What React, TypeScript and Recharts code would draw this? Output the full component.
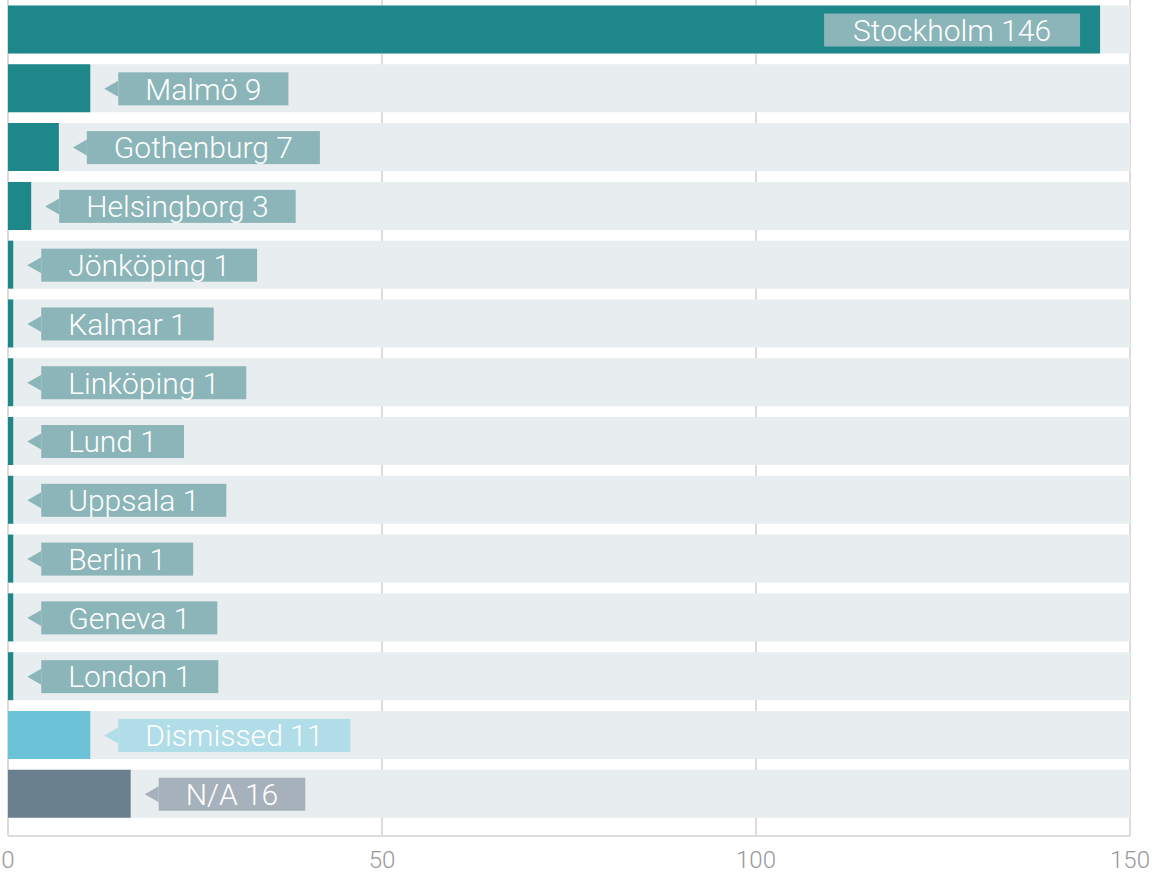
import { Bar, BarChart, CartesianGrid, Cell, LabelList, XAxis, YAxis } from "recharts";

const places = [
  "Stockholm",
  "Malmö",
  "Gothenburg",
  "Helsingborg",
  "Jönköping",
  "Kalmar",
  "Linköping",
  "Lund",
  "Uppsala",
  "Berlin",
  "Geneva",
  "London",
  "Dismissed",
  "N/A",
];
// numbers printed in the labels
const counts = [146, 9, 7, 3, 1, 1, 1, 1, 1, 1, 1, 1, 11, 16];
// bar lengths as drawn in the picture
const lengths = [146, 11, 6.8, 3.1, 0.7, 0.7, 0.7, 0.7, 0.7, 0.7, 0.7, 0.7, 11, 16.4];
const kinds = ["city", "city", "city", "city", "city", "city", "city", "city", "city", "city", "city", "city", "dismissed", "na"];
const xTicks = [0, 50, 100, 150];

const barColor: Record<string, string> = { city: "#1d878a", dismissed: "#6cc3d7", na: "#6b808f" };
const tagColor: Record<string, string> = { city: "#8bb5b8", dismissed: "#b0dde8", na: "#a7b1bb" };

const data = places.map((name, i) => ({
  name,
  length: lengths[i],
  label: `${name} ${counts[i]}`,
  kind: kinds[i],
}));

const FONT = "300 30px Roboto";
let ctx: CanvasRenderingContext2D | null = null;
function textWidth(s: string) {
  if (!ctx) ctx = document.createElement("canvas").getContext("2d");
  if (!ctx) return s.length * 15;
  ctx.font = FONT;
  return ctx.measureText(s).width;
}

const PLOT_RIGHT = 1130;

function Tag(props: any) {
  const { x, y, width, height, index } = props;
  const d = data[index];
  const tw = textWidth(d.label);
  const boxW = tw + 54;
  const boxH = 33;
  const cy = y + height / 2 + 0.5;
  const end = x + width;
  const inside = end + 28 + boxW > PLOT_RIGHT;
  if (inside) {
    const bx = end - 20 - boxW - 4;
    const w = boxW + 4;
    return (
      <g>
        <rect x={bx} y={cy - boxH / 2} width={w} height={boxH} fill={tagColor[d.kind]} />
        <text x={bx + w / 2} y={cy} dy="0.36em" textAnchor="middle" fill="#fff" style={{ font: FONT }}>
          {d.label}
        </text>
      </g>
    );
  }
  const tip = end + 14;
  const bx = tip + 14;
  return (
    <g>
      <polygon points={`${tip},${cy} ${bx},${cy - 8} ${bx},${cy + 8}`} fill={tagColor[d.kind]} />
      <rect x={bx} y={cy - boxH / 2} width={boxW} height={boxH} fill={tagColor[d.kind]} />
      <text x={bx + boxW / 2} y={cy} dy="0.36em" textAnchor="middle" fill="#fff" style={{ font: FONT }}>
        {d.label}
      </text>
    </g>
  );
}

export default function App() {
  return (
    <div style={{ position: "absolute", left: 0, top: 0, background: "#fff" }}>
      <BarChart
        width={1152}
        height={874}
        data={data}
        layout="vertical"
        margin={{ top: 0, right: 22, bottom: 0, left: 8 }}
        barCategoryGap="9.4%"
      >
        <CartesianGrid horizontal={false} stroke="#dcdcdc" strokeWidth={2} />
        <XAxis
          type="number"
          domain={[0, 150]}
          ticks={xTicks}
          height={38}
          tickLine={false}
          tickSize={0}
          tickMargin={15}
          axisLine={{ stroke: "#dcdcdc", strokeWidth: 2 }}
          tick={{ fill: "#999", fontSize: 24, fontFamily: "Roboto", fontWeight: 300 }}
        />
        <YAxis type="category" dataKey="name" hide padding={{ top: 0, bottom: 13 }} />
        <Bar dataKey="length" isAnimationActive={false} background={{ fill: "#e8edf0" }}>
          {data.map((d) => (
            <Cell key={d.name} fill={barColor[d.kind]} />
          ))}
          <LabelList dataKey="label" content={<Tag />} />
        </Bar>
      </BarChart>
    </div>
  );
}
